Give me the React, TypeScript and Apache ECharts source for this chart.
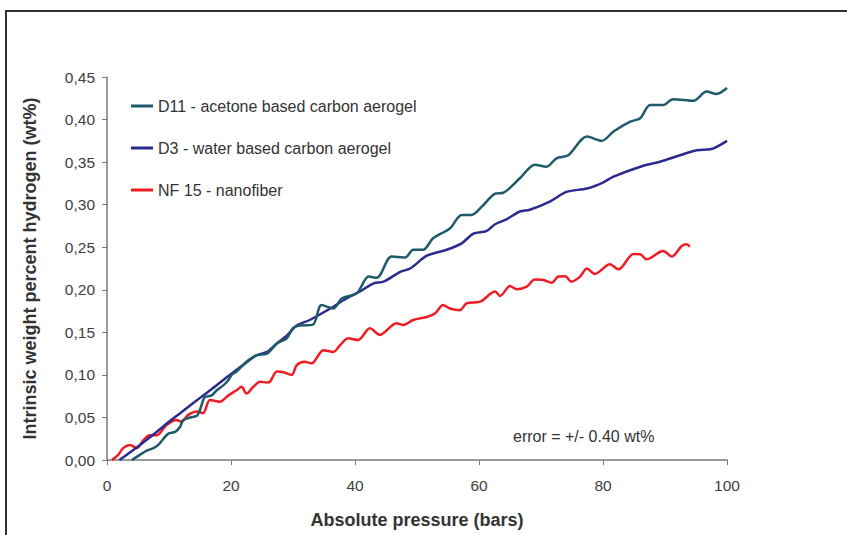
import React, { useEffect, useRef } from "react";
import * as echarts from "echarts";

const xTicks = [0, 20, 40, 60, 80, 100];
const yTicks = [0, 0.05, 0.1, 0.15, 0.2, 0.25, 0.3, 0.35, 0.4, 0.45];

const seriesNames = [
  "D11 - acetone based carbon aerogel",
  "D3 - water based carbon aerogel",
  "NF 15 - nanofiber",
];

const d11Pressure = [4.0, 5.3, 6.4, 7.5, 8.3, 9.1, 9.9, 11, 11.8, 12.3, 13.4, 14.5, 15, 15.5, 15.8, 16.9, 17.7, 18.8, 19.6, 20.1, 20.9, 22.5, 24.1, 25.8, 27.4, 29, 30, 31, 33.2, 34.6, 36.5, 37.9, 40.3, 42.2, 43.5, 45.9, 48.1, 49.4, 51, 52.6, 55.3, 57.2, 58.8, 60.5, 62.6, 63.9, 66.6, 69, 70.9, 72.5, 74.4, 77.4, 79.8, 81.7, 84.4, 86, 87.6, 89.7, 91.3, 94.6, 96.7, 98.3, 100];
const d11Weight = [0, 0.006, 0.011, 0.014, 0.018, 0.025, 0.031, 0.033, 0.039, 0.047, 0.05, 0.052, 0.059, 0.07, 0.074, 0.076, 0.082, 0.088, 0.094, 0.1, 0.104, 0.1155, 0.123, 0.125, 0.137, 0.143, 0.155, 0.158, 0.159, 0.182, 0.178, 0.19, 0.196, 0.2155, 0.214, 0.239, 0.238, 0.247, 0.247, 0.2605, 0.272, 0.288, 0.288, 0.298, 0.313, 0.314, 0.331, 0.347, 0.3446, 0.3545, 0.358, 0.38, 0.375, 0.386, 0.3975, 0.4015, 0.417, 0.417, 0.424, 0.422, 0.433, 0.43, 0.437];

const d3Pressure = [2.0, 5, 8, 10.2, 12, 15, 17, 19.8, 22, 24.1, 25.8, 27.4, 29, 30.6, 32.7, 36, 38.7, 40.8, 43, 44.6, 47.3, 48.9, 51.6, 54.8, 57.2, 59.1, 61.2, 62.6, 64.5, 66.6, 68.2, 71.5, 74.1, 77.4, 80, 81.7, 86.5, 89.2, 92.4, 95.1, 97.3, 100];
const d3Weight = [0, 0.016, 0.033, 0.046, 0.056, 0.073, 0.084, 0.1, 0.112, 0.123, 0.127, 0.137, 0.146, 0.158, 0.1645, 0.178, 0.19, 0.198, 0.2076, 0.2095, 0.221, 0.225, 0.24, 0.247, 0.2545, 0.266, 0.269, 0.277, 0.283, 0.292, 0.294, 0.304, 0.315, 0.319, 0.326, 0.333, 0.3458, 0.3505, 0.358, 0.364, 0.365, 0.375];

const nf15Pressure = [0.8, 1.8, 2.6, 3.7, 4.8, 5.9, 6.9, 8, 9.6, 11.2, 12, 13.1, 14.5, 15.5, 16.6, 18.2, 19.6, 20.9, 21.7, 22.5, 23.6, 24.7, 25.8, 26.3, 27.4, 28.5, 29.8, 30.6, 31.9, 33, 34.9, 36.5, 37.6, 38.9, 40.5, 42.4, 44, 46.7, 47.8, 49.4, 51.6, 52.9, 54.2, 55.3, 56.9, 58, 60.2, 62.6, 63.4, 65, 66.1, 67.7, 69, 70.4, 71.7, 72.8, 73.9, 74.9, 76.3, 77.4, 78.7, 81.1, 82.5, 84.9, 86, 87, 89.7, 91.1, 92.7, 93.5, 94];
const nf15Weight = [0, 0.006, 0.014, 0.0176, 0.014, 0.0235, 0.029, 0.029, 0.041, 0.047, 0.045, 0.053, 0.057, 0.055, 0.0705, 0.0685, 0.076, 0.082, 0.086, 0.078, 0.086, 0.092, 0.091, 0.092, 0.104, 0.103, 0.1, 0.1116, 0.1155, 0.1136, 0.129, 0.127, 0.135, 0.143, 0.141, 0.1547, 0.147, 0.1606, 0.1586, 0.1645, 0.168, 0.172, 0.182, 0.178, 0.176, 0.184, 0.186, 0.198, 0.1927, 0.2045, 0.2006, 0.2036, 0.212, 0.2115, 0.2083, 0.2155, 0.216, 0.2095, 0.2155, 0.225, 0.2186, 0.23, 0.224, 0.242, 0.2417, 0.2358, 0.2456, 0.239, 0.2515, 0.2535, 0.2506];

const colors = ["#1E5A68", "#2B2A8E", "#EE1D24"];

const zip = (xs: number[], ys: number[]) => xs.map((x, i) => [x, ys[i]]);

export default function App() {
  const ref = useRef<HTMLDivElement>(null);
  useEffect(() => {
    if (!ref.current) return;
    const chart = echarts.init(ref.current, null, { renderer: "svg" });
    const font = "Liberation Sans, Arial, sans-serif";
    const datasets = [
      zip(d11Pressure, d11Weight),
      zip(d3Pressure, d3Weight),
      zip(nf15Pressure, nf15Weight),
    ];
    chart.setOption({
      animation: false,
      backgroundColor: "#ffffff",
      textStyle: { fontFamily: font },
      grid: { left: 107, top: 77, right: 120, bottom: 75, containLabel: false },
      legend: {
        orient: "vertical",
        left: 131,
        top: 97,
        padding: 0,
        icon: "rect",
        itemWidth: 22,
        itemHeight: 3,
        itemGap: 24,
        data: seriesNames,
        textStyle: { fontFamily: font, fontSize: 16, color: "#333333", lineHeight: 18 },
      },
      xAxis: {
        type: "value",
        min: xTicks[0],
        max: xTicks[xTicks.length - 1],
        interval: 20,
        name: "Absolute pressure (bars)",
        nameLocation: "middle",
        nameGap: 51,
        nameTextStyle: { fontFamily: font, fontSize: 18, fontWeight: "bold", color: "#333333" },
        axisLine: { lineStyle: { color: "#7a7a7a", width: 1.5 } },
        axisTick: { show: true, length: 5, lineStyle: { color: "#7a7a7a" } },
        axisLabel: { fontFamily: font, fontSize: 15.5, color: "#404040", margin: 17 },
        splitLine: { show: false },
      },
      yAxis: {
        type: "value",
        min: yTicks[0],
        max: yTicks[yTicks.length - 1],
        interval: 0.05,
        name: "Intrinsic weight percent hydrogen (wt%)",
        nameLocation: "middle",
        nameGap: 68,
        nameTextStyle: { fontFamily: font, fontSize: 18, fontWeight: "bold", color: "#333333" },
        axisLine: { show: true, lineStyle: { color: "#7a7a7a", width: 1.5 } },
        axisTick: { show: true, length: 5, lineStyle: { color: "#7a7a7a" } },
        axisLabel: {
          fontFamily: font,
          fontSize: 15.5,
          color: "#404040",
          margin: 12,
          formatter: (v: number) => v.toFixed(2).replace(".", ","),
        },
        splitLine: { show: false },
      },
      series: seriesNames.map((name, i) => ({
        name,
        type: "line",
        data: datasets[i],
        showSymbol: false,
        symbol: "none",
        smooth: 0.3,
        color: colors[i],
        lineStyle: { color: colors[i], width: 2.5 },
        z: 3 - i,
      })),
      graphic: [
        {
          type: "rect",
          shape: { x: 6, y: 11, width: 900, height: 600 },
          style: { fill: "none", stroke: "#333333", lineWidth: 2 },
          silent: true,
        },
        {
          type: "text",
          x: 513,
          y: 436,
          style: {
            text: "error = +/- 0.40 wt%",
            fontFamily: font,
            fontSize: 16,
            fill: "#333333",
            verticalAlign: "middle",
          },
        },
      ],
    });
    return () => chart.dispose();
  }, []);
  return (
    <div
      ref={ref}
      style={{ position: "absolute", left: 0, top: 0, width: 847, height: 535 }}
    />
  );
}
